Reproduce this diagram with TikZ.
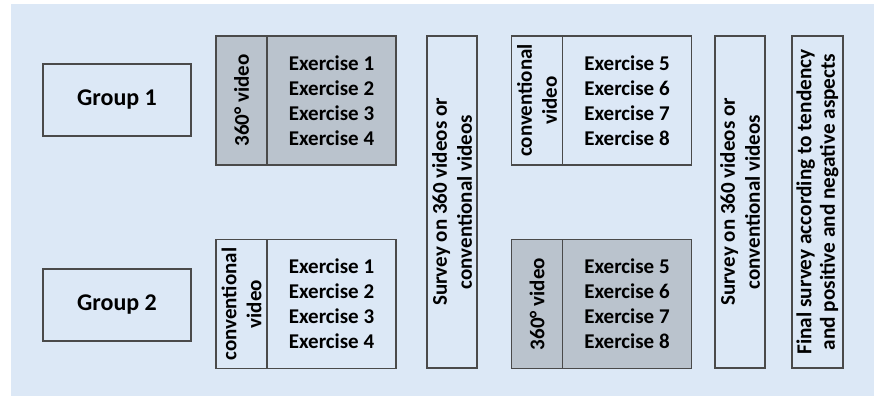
\documentclass[tikz,border=0pt]{standalone}
\usepackage{fontspec}
\setmainfont{Carlito}
\definecolor{bgblue}{HTML}{DCE8F6}
\definecolor{boxgray}{HTML}{BAC3CD}
\definecolor{edge}{HTML}{4A4A4A}
\begin{document}
\begin{tikzpicture}[x=1pt,y=-1pt,
  box/.style={draw=edge,line width=1.1pt,rectangle,inner sep=0pt,align=center,font=\bfseries},
  plain/.style={fill=bgblue},
  grey/.style={fill=boxgray},
  grp/.style={box,minimum width=148pt,minimum height=72pt,font=\fontsize{24}{28}\selectfont\bfseries},
  lbl/.style={box,rotate=90,minimum width=129pt,minimum height=51pt,font=\fontsize{21}{25}\selectfont\bfseries},
  exer/.style={box,minimum width=129pt,minimum height=129pt,font=\fontsize{21}{25}\selectfont\bfseries},
  survey/.style={box,rotate=90,minimum width=332pt,minimum height=50pt,font=\fontsize{21}{25}\selectfont\bfseries},
  final/.style={box,rotate=90,minimum width=332pt,minimum height=51pt,font=\fontsize{21.3}{23.5}\selectfont\bfseries}]
\useasboundingbox (0,0) rectangle (874,396);
\fill[bgblue] (11,4) rectangle (874,396);
% groups
\node[grp,plain] (g1) at (117,100) {Group 1};
\node[grp,plain] (g2) at (117,305) {Group 2};
% first phase
\node[lbl,grey] (l1) at (241.5,100.5) {360° video};
\node[exer,grey] (e1) at (331.5,100.5) {Exercise 1\\Exercise 2\\Exercise 3\\Exercise 4};
\node[lbl,plain] (l2) at (241.5,304) {conventional\\video};
\node[exer,plain] (e2) at (331.5,304) {Exercise 1\\Exercise 2\\Exercise 3\\Exercise 4};
% survey 1
\node[survey,plain] (s1) at (452,202) {Survey on 360 videos or\\conventional videos};
% second phase
\node[lbl,plain] (l3) at (537,100.5) {conventional\\video};
\node[exer,plain] (e3) at (627,100.5) {Exercise 5\\Exercise 6\\Exercise 7\\Exercise 8};
\node[lbl,grey] (l4) at (537,304) {360° video};
\node[exer,grey] (e4) at (627,304) {Exercise 5\\Exercise 6\\Exercise 7\\Exercise 8};
% survey 2
\node[survey,plain] (s2) at (740,202) {Survey on 360 videos or\\conventional videos};
% final survey
\node[final,plain] (f) at (817.5,202) {Final survey according to tendency\\and positive and negative aspects};
\end{tikzpicture}
\end{document}
